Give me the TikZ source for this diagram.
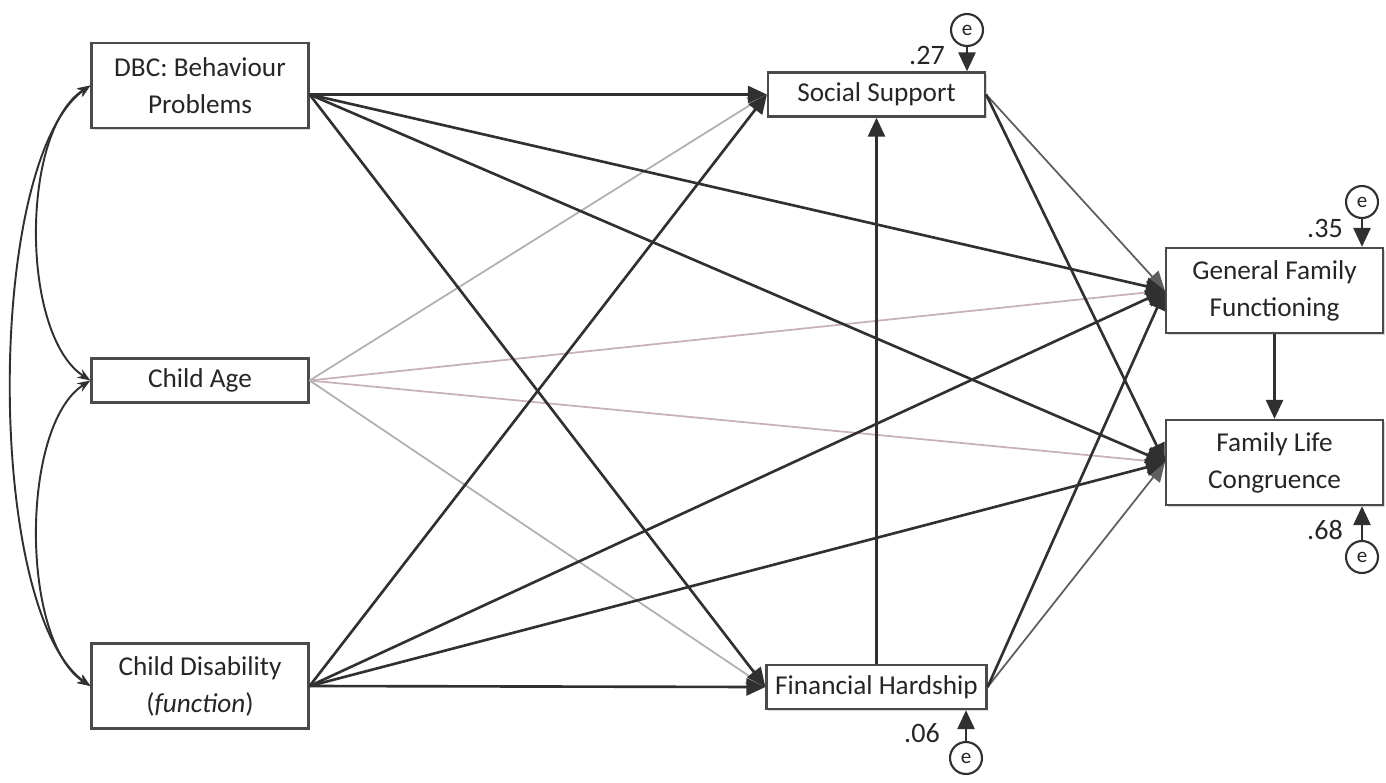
\documentclass[tikz,border=0pt]{standalone}
\usepackage{fontspec}
\setmainfont{Carlito}
\usetikzlibrary{arrows.meta, shadows}
\definecolor{pathdark}{HTML}{303030}
\definecolor{pathgrey}{HTML}{5E5E5E}
\definecolor{pathlight}{HTML}{B0B0B0}
\definecolor{pathpink}{HTML}{C8B2B6}
\definecolor{boxedge}{HTML}{4A4A4A}
\definecolor{textcol}{HTML}{262626}

\begin{document}
\begin{tikzpicture}[
    x=0.02cm, y=-0.02cm,
    var/.style={draw=boxedge, line width=1.3pt, fill=white, minimum width=4.34cm,
        align=center, inner sep=0pt, text=textcol,
        font=\fontsize{15.5}{21}\selectfont,
        drop shadow={shadow xshift=1pt, shadow yshift=-1pt, opacity=0.3}},
    tall/.style={var, minimum height=1.7cm},
    flat/.style={var, minimum height=0.88cm},
    err/.style={circle, draw=pathdark, line width=1.2pt, fill=white, minimum size=0.64cm,
        inner sep=0pt, text=textcol, font=\fontsize{12}{14}\selectfont},
    rsq/.style={text=textcol, font=\fontsize{16}{18}\selectfont},
    reg/.style={draw=pathdark, line width=1.5pt, -{Triangle[length=0.38cm, width=0.34cm]}},
    cov/.style={draw=pathdark, line width=1.1pt, {Stealth[length=0.26cm]}-{Stealth[length=0.26cm]}}
]
    \useasboundingbox (0,0) rectangle (1386,782);

    % Predictors (left column)
    \node[tall] (dbc) at (200,85.5) {DBC: Behaviour\\Problems};
    \node[flat] (age) at (200,380.5) {Child Age};
    \node[tall] (dis) at (200,686) {Child Disability\\(\textit{function})};

    % Mediators (middle column)
    \node[flat] (ss) at (876.5,94.5) {Social Support};
    \node[flat, minimum width=4.4cm] (fh) at (876.5,687) {Financial Hardship};

    % Outcomes (right column)
    \node[tall] (gff) at (1274.5,290.5) {General Family\\Functioning};
    \node[tall] (flc) at (1274.5,462.5) {Family Life\\Congruence};

    % Error terms and R-squared values
    \node[err] (ess) at (967,30) {e};
    \node[err] (egff) at (1362,202) {e};
    \node[err] (eflc) at (1362,557) {e};
    \node[err] (efh) at (966,758) {e};
    \node[rsq] (rss) at (927,55) {.27};
    \node[rsq] (rgff) at (1325,228) {.35};
    \node[rsq] (rflc) at (1325,530) {.68};
    \node[rsq] (rfh) at (922,733) {.06};
    \draw[reg] (ess) -- (ess |- ss.north);
    \draw[reg] (egff) -- (egff |- gff.north);
    \draw[reg] (eflc) -- (eflc |- flc.south);
    \draw[reg] (efh) -- (efh |- fh.south);

    % --- Covariances among predictors ---
    \draw[cov] (dbc.west) .. controls (20,130) and (20,335) .. (age.west);
    \draw[cov] (age.west) .. controls (20,425) and (20,641) .. (dis.west);
    \draw[cov] (dbc.west) .. controls (-15,160) and (-15,611) .. (dis.west);

    % --- Paths from Child Age (light, drawn first) ---
    \draw[reg, draw=pathlight, line width=1pt] (age.east) -- (ss.west);
    \draw[reg, draw=pathpink, line width=1pt] (age.east) -- (gff.west);
    \draw[reg, draw=pathpink, line width=1pt] (age.east) -- (flc.west);
    \draw[reg, draw=pathlight, line width=1pt] (age.east) -- (fh.west);

    % thin mediator paths
    \draw[reg, draw=pathgrey, line width=1pt] (ss.east) -- (gff.west);
    \draw[reg, draw=pathgrey, line width=1pt] (fh.east) -- (flc.west);

    % --- Paths from DBC ---
    \coordinate (dbcout) at (dbc.east |- ss.west);
    \draw[reg] (dbcout) -- (ss.west);
    \draw[reg] (dbcout) -- (gff.west);
    \draw[reg] (dbcout) -- (flc.west);
    \draw[reg] (dbcout) -- (fh.west);

    % --- Paths from Child Disability ---
    \draw[reg] (dis.east) -- (ss.west);
    \draw[reg] (dis.east) -- (gff.west);
    \draw[reg] (dis.east) -- (flc.west);
    \draw[reg] (dis.east) -- (fh.west);

    % --- Mediator paths ---
    \draw[reg] (fh.north) -- (ss.south);
    \draw[reg] (ss.east) -- (flc.west);
    \draw[reg] (fh.east) -- (gff.west);

    % Outcome to outcome
    \draw[reg] (gff.south) -- (flc.north);
\end{tikzpicture}
\end{document}
